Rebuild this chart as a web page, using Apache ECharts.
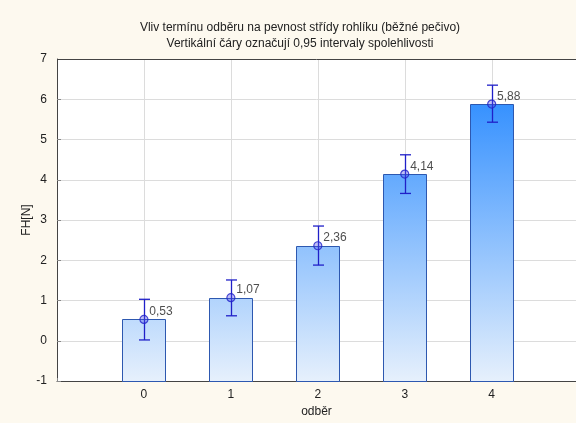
<!DOCTYPE html>
<html>
<head>
<meta charset="utf-8">
<script src="https://cdn.jsdelivr.net/npm/echarts@6/dist/echarts.min.js"></script>
<style>
  html, body { margin: 0; padding: 0; background: #fdf9ef; overflow: hidden; }
  #chart { width: 576px; height: 423px; }
</style>
</head>
<body>
<div id="chart"></div>
<script>
// Sampling times (odběr) and crumb firmness FH[N]
const categories = [0, 1, 2, 3, 4];
const means = [0.53, 1.07, 2.36, 4.14, 5.88];
const ciLower = [0.02, 0.62, 1.88, 3.66, 5.43];
const ciUpper = [1.03, 1.51, 2.85, 4.62, 6.35];
const yTicks = [-1, 0, 1, 2, 3, 4, 5, 6, 7];

const FONT = '"Liberation Sans", Arial, sans-serif';
const Y_MIN = yTicks[0];
const Y_MAX = yTicks[yTicks.length - 1];

const chart = echarts.init(document.getElementById('chart'), null, { renderer: 'canvas' });

const barData = categories.map((c, i) => [c, means[i]]);
const errData = categories.map((c, i) => [c, ciLower[i], ciUpper[i]]);

// Vertical gradient spanning the full plot height, shared by all bars
const barFill = new echarts.graphic.LinearGradient(0, 59, 0, 381, [
  { offset: 0, color: '#1a82ff' },
  { offset: 1, color: '#e6f0fc' }
], true);

const option = {
  backgroundColor: '#fdf9ef',
  animation: false,
  title: {
    text: 'Vliv termínu odběru na pevnost střídy rohlíku (běžné pečivo)\nVertikální čáry označují 0,95 intervaly spolehlivosti',
    left: 295,
    top: 15,
    textAlign: 'center',
    textStyle: { fontFamily: FONT, fontSize: 12, fontWeight: 'normal', color: '#222', lineHeight: 16 }
  },
  grid: { left: 57, top: 59, width: 519, height: 322, outerBoundsMode: 'none', show: false },
  xAxis: {
    type: 'value',
    min: -1, max: 4.97, interval: 1,
    name: 'odběr',
    nameLocation: 'middle',
    nameGap: 20,
    nameTextStyle: { fontFamily: FONT, fontSize: 12, color: '#222' },
    axisLine: { show: true, onZero: false, lineStyle: { color: '#444', width: 1 } },
    axisTick: { show: true, inside: true, length: 3, lineStyle: { color: '#888' } },
    axisLabel: {
      fontFamily: FONT, fontSize: 12, color: '#222', margin: 8,
      formatter: v => (v >= 0 && v <= 4) ? String(v) : ''
    },
    splitLine: { show: false }
  },
  yAxis: {
    type: 'value',
    min: Y_MIN, max: Y_MAX, interval: 1,
    name: 'FH[N]',
    nameLocation: 'middle',
    nameGap: 24,
    nameMoveOverlap: false,
    nameTextStyle: { fontFamily: FONT, fontSize: 12, color: '#222' },
    axisLine: { show: true, onZero: false, lineStyle: { color: '#444', width: 1 } },
    axisTick: { show: true, inside: true, length: 4, lineStyle: { color: '#888' } },
    axisLabel: { fontFamily: FONT, fontSize: 12, color: '#222', margin: 10 },
    splitLine: { show: true, lineStyle: { color: '#dcdcdc', width: 1 } }
  },
  graphic: [
    // white plot area behind the grid lines
    { type: 'rect', z: -10, silent: true, shape: { x: 57, y: 59, width: 530, height: 322 }, style: { fill: '#ffffff' } },
    // top frame line of the plot area
    { type: 'line', z: 10, silent: true, shape: { x1: 57, y1: 59.5, x2: 576, y2: 59.5 }, style: { stroke: '#444', lineWidth: 1 } }
  ],
  series: [
    {
      // vertical grid lines at each sampling time
      type: 'custom',
      data: categories.map(c => [c]),
      z: 1,
      silent: true,
      renderItem: function (params, api) {
        const x = api.value(0);
        const b = api.coord([x, Y_MIN]);
        const t = api.coord([x, Y_MAX]);
        const px = Math.round(b[0]) + 0.5;
        return { type: 'line', shape: { x1: px, y1: b[1], x2: px, y2: t[1] }, style: { stroke: '#dcdcdc', lineWidth: 1 } };
      }
    },
    {
      // bars rising from the bottom of the axis (-1) to the mean
      type: 'custom',
      data: barData,
      z: 2,
      renderItem: function (params, api) {
        const x = api.value(0);
        const v = api.value(1);
        const p0 = api.coord([x - 0.247, Y_MIN]);
        const p1 = api.coord([x + 0.247, v]);
        return {
          type: 'rect',
          shape: { x: Math.round(p0[0]) + 0.5, y: Math.round(p1[1]) + 0.5, width: Math.round(p1[0] - p0[0]), height: Math.round(p0[1] - p1[1]) },
          style: { fill: barFill, stroke: '#2d58b0', lineWidth: 1 }
        };
      }
    },
    {
      // 0.95 confidence interval whiskers
      type: 'custom',
      data: errData,
      z: 4,
      renderItem: function (params, api) {
        const x = api.value(0);
        const lo = api.coord([x, api.value(1)]);
        const hi = api.coord([x, api.value(2)]);
        const cx = Math.round(lo[0]) + 0.5;
        const cap = 5.5;
        const st = { stroke: '#2020c8', lineWidth: 1.3 };
        return {
          type: 'group',
          children: [
            { type: 'line', shape: { x1: cx, y1: lo[1], x2: cx, y2: hi[1] }, style: st },
            { type: 'line', shape: { x1: cx - cap, y1: lo[1], x2: cx + cap, y2: lo[1] }, style: st },
            { type: 'line', shape: { x1: cx - cap, y1: hi[1], x2: cx + cap, y2: hi[1] }, style: st }
          ]
        };
      }
    },
    {
      // mean markers with value labels
      type: 'scatter',
      data: barData,
      z: 5,
      symbol: 'circle',
      symbolSize: 8,
      itemStyle: { color: 'rgba(80,80,230,0.45)', borderColor: '#2020c8', borderWidth: 1.2 },
      label: {
        show: true,
        position: [10, -9],
        fontFamily: FONT,
        fontSize: 12,
        color: '#222',
        formatter: p => p.value[1].toFixed(2).replace('.', ',')
      }
    }
  ]
};

chart.setOption(option);
</script>
</body>
</html>
